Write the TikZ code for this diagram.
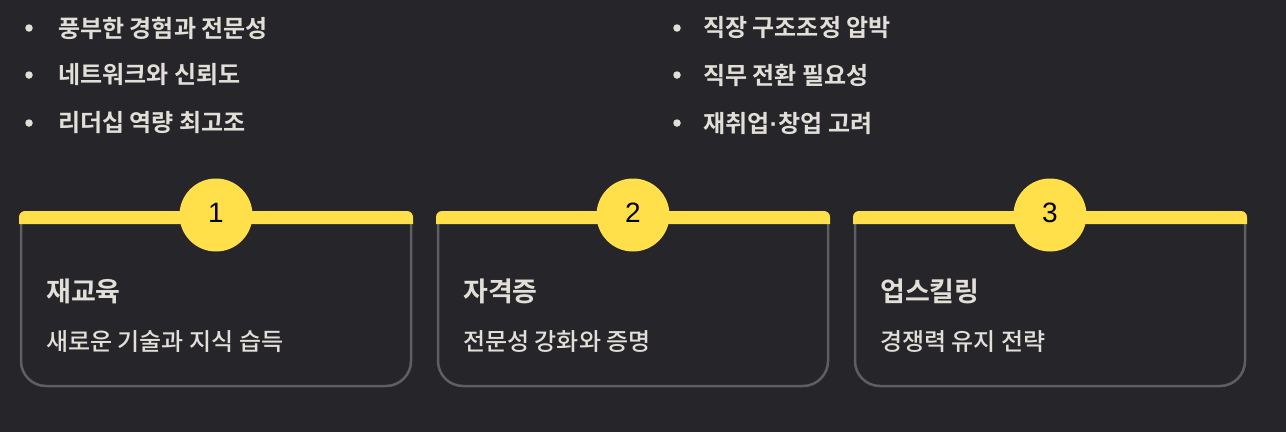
\documentclass[tikz,border=0pt]{standalone}
\usepackage{fontspec}
\setmainfont{Noto Sans CJK KR}
\newfontfamily\medfont{Noto Sans CJK KR Medium}
\newfontfamily\boldfont{Noto Sans CJK KR Bold}
\newfontfamily\numfont{Liberation Sans}
\definecolor{bg}{HTML}{26252A}
\definecolor{txt}{HTML}{E2DFD8}
\definecolor{yel}{HTML}{FFE04A}
\definecolor{brd}{HTML}{5F5E63}
\newcommand{\mdot}{{\numfont\bfseries\kern0.5pt·\kern0.5pt}}
\tikzset{
  bullettext/.style={anchor=west, inner sep=0pt, text=txt, font=\boldfont\fontsize{24}{28}\selectfont},
  bulletdot/.style={circle, fill=txt, inner sep=0pt, minimum size=7.5pt},
  cardtitle/.style={anchor=west, inner sep=0pt, text=txt, font=\boldfont\fontsize{27}{31}\selectfont},
  cardsub/.style={anchor=west, inner sep=0pt, text=txt, font=\medfont\fontsize{24}{28}\selectfont},
  numcircle/.style={circle, fill=yel, inner sep=0pt, minimum size=73pt},
  numtext/.style={inner sep=0pt, text=black, font=\numfont\fontsize{28}{31}\selectfont},
  cardborder/.style={draw=brd, line width=2.5pt, rounded corners=25pt},
  cardbar/.style={fill=yel}
}
\begin{document}
\begin{tikzpicture}[x=1pt,y=-1pt]
\fill[bg] (0,0) rectangle (1286,432);
\useasboundingbox (0,0) rectangle (1286,432);
% bullets left
\foreach \i/\yy/\t in {a/28/풍부한 경험과 전문성, b/75/네트워크와 신뢰도, c/123/리더십 역량 최고조}{
  \node[bulletdot] (ld\i) at (29,\yy) {};
  \node[bullettext] (lt\i) at (58,\yy) {\t};
}
\foreach \i/\yy/\t in {a/28/직장 구조조정 압박, b/75/직무 전환 필요성, c/123/재취업\mdot 창업 고려}{
  \node[bulletdot] (rd\i) at (677,\yy) {};
  \node[bullettext] (rt\i) at (703,\yy) {\t};
}
% cards
\foreach \k/\x/\title/\sub in {1/20/재교육/새로운 기술과 지식 습득, 2/437/자격증/전문성 강화와 증명, 3/854/업스킬링/경쟁력 유지 전략}{
  \draw[cardborder] (\x+1,222) -- (\x+1,386) -- (\x+391,386) -- (\x+391,222);
  \fill[cardbar] (\x-1,224) [rounded corners=6pt] -- (\x-1,211) -- (\x+393,211) [sharp corners] -- (\x+393,224) -- cycle;
  \node[numcircle] (c\k) at (\x+196,215) {};
  \node[numtext] (n\k) at (\x+196,213) {\k};
  \node[cardtitle] (t\k) at (\x+26,291) {\title};
  \node[cardsub] (s\k) at (\x+26,342) {\sub};
}
\end{tikzpicture}
\end{document}
